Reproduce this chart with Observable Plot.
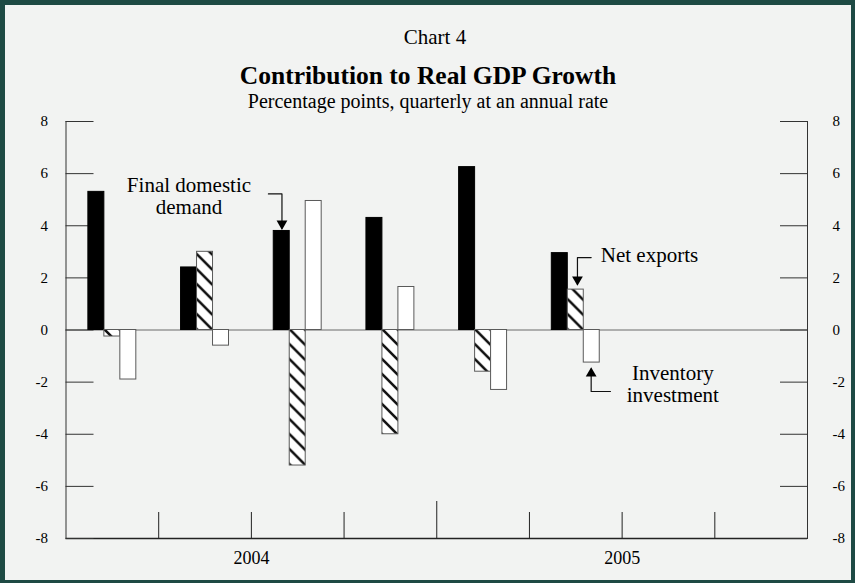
<!DOCTYPE html>
<html>
<head>
<meta charset="utf-8">
<script src="https://cdn.jsdelivr.net/npm/d3@7"></script>
<script src="https://cdn.jsdelivr.net/npm/@observablehq/plot@0.6"></script>
<style>
  html, body { margin: 0; padding: 0; background: #1e4a44; }
  #page { position: relative; width: 855px; height: 583px; background: #1e4a44; overflow: hidden; font-family: "Liberation Serif", "Times New Roman", serif; }
  #panel { position: absolute; left: 5px; top: 5px; width: 846px; height: 575px; background: #f2f3f2; }
  .layer { position: absolute; left: 0; top: 0; }
  .ttl { position: absolute; left: 0; width: 856px; text-align: center; line-height: 1; color: #000; white-space: nowrap; }
  #chartno { top: 27px; font-size: 21px; left: 7px; }
  #title { top: 63px; font-size: 25.5px; font-weight: bold; }
  #subtitle { top: 91px; font-size: 20px; }
</style>
</head>
<body>
<div id="page">
  <div id="panel"></div>
  <div id="axes" class="layer"></div>
  <div id="bars" class="layer"></div>
  <div id="chartno" class="ttl">Chart 4</div>
  <div id="title" class="ttl">Contribution to Real GDP Growth</div>
  <div id="subtitle" class="ttl">Percentage points, quarterly at an annual rate</div>
</div>
<script>
// ---------------- data ----------------
const quarters = ["2004 Q1", "2004 Q2", "2004 Q3", "2004 Q4", "2005 Q1", "2005 Q2", "2005 Q3", "2005 Q4"];
const seriesNames = ["Final domestic demand", "Net exports", "Inventory investment"];
const finalDomesticDemand = [5.3, 2.4, 3.8, 4.3, 6.25, 2.95];
const netExports = [-0.25, 3.0, -5.2, -4.0, -1.6, 1.55];
const inventoryInvestment = [-1.9, -0.6, 4.95, 1.65, -2.3, -1.25];
const yTicks = [-8, -6, -4, -2, 0, 2, 4, 6, 8];
const yearLabels = ["2004", "2005"];

// annotation labels (x in quarter-slot units, y in percentage points)
const noteTexts = ["Final domestic\ndemand", "Net exports", "Inventory\ninvestment"];
const noteX = [1.327, 6.295, 6.547];
const noteY = [5.14, 2.885, -2.07];
// leader lines (polylines ending at arrow tips)
const leaderFDD = [[2.184, 5.22], [2.33, 5.22], [2.33, 3.9]];
const leaderNX = [[5.666, 2.78], [5.518, 2.78], [5.518, 1.75]];
const leaderInv = [[5.874, -2.36], [5.666, -2.36], [5.666, -1.5]];
const tipsDown = [[2.33, 3.84], [5.518, 1.70]];
const tipsUp = [[5.666, -1.43]];

// ---------------- styles ----------------
const seriesFill = {"Final domestic demand": "black", "Net exports": "url(#hatch)", "Inventory investment": "white"};
const seriesStroke = {"Final domestic demand": "black", "Net exports": "#5a5a5a", "Inventory investment": "#5a5a5a"};

const W = 855, H = 583;
const M = {marginTop: 121, marginBottom: 45, marginLeft: 65.5, marginRight: 48};
const font = "'Liberation Serif', 'Times New Roman', serif";

// ---------------- derived tables ----------------
const seriesValues = [finalDomesticDemand, netExports, inventoryInvestment];
const table = quarters.flatMap((q, i) =>
  seriesNames.map((s, j) => ({quarter: q, series: s, value: seriesValues[j][i]}))
).filter(d => d.value !== undefined);

const nQ = quarters.length;
const boundaries = d3.range(1, nQ);
const yearOf = q => q.slice(0, 4);
const yearBreaks = boundaries.filter(i => yearOf(quarters[i]) !== yearOf(quarters[i - 1]));
const minorBreaks = boundaries.filter(i => !yearBreaks.includes(i));
const yearCenters = yearLabels.map(y => {
  const idx = quarters.map((q, i) => yearOf(q) === y ? i : -1).filter(i => i >= 0);
  return (idx[0] + idx[idx.length - 1] + 1) / 2;
});
const yearName = new Map(yearCenters.map((c, i) => [c, yearLabels[i]]));
const notes = noteTexts.map((t, i) => ({text: t, x: noteX[i], y: noteY[i]}));

// ---------------- axes / annotation layer ----------------
const axes = Plot.plot({
  width: W, height: H, ...M,
  x: {domain: [0, nQ], axis: null},
  y: {domain: [-8, 8], axis: null},
  style: {background: "transparent", fontFamily: font, fontSize: "15px", color: "#000"},
  marks: [
    Plot.ruleY([0], {stroke: "#6a6a6a", strokeWidth: 1}),
    Plot.ruleX([0, nQ], {stroke: "#333", strokeWidth: 1}),
    Plot.ruleY([-8], {stroke: "#222", strokeWidth: 1.6}),
    Plot.axisY({anchor: "left", label: null, ticks: yTicks, tickSize: -28, tickPadding: 46, tickFormat: d => String(d), stroke: "#333"}),
    Plot.axisY({anchor: "right", label: null, ticks: yTicks, tickSize: -28, tickPadding: 53, tickFormat: d => String(d), stroke: "#333"}),
    Plot.axisX({anchor: "bottom", label: null, ticks: minorBreaks, tickSize: -26, tickFormat: () => "", stroke: "#222"}),
    Plot.axisX({anchor: "bottom", label: null, ticks: yearBreaks, tickSize: -37, tickFormat: () => "", stroke: "#222"}),
    Plot.axisX({anchor: "bottom", label: null, ticks: yearCenters, tickSize: 0, tickPadding: 13, fontSize: 18, tickFormat: d => yearName.get(d)}),
    Plot.line(leaderFDD, {x: d => d[0], y: d => d[1], stroke: "#111", strokeWidth: 1.2, curve: "linear"}),
    Plot.line(leaderNX, {x: d => d[0], y: d => d[1], stroke: "#111", strokeWidth: 1.2, curve: "linear"}),
    Plot.line(leaderInv, {x: d => d[0], y: d => d[1], stroke: "#111", strokeWidth: 1.2, curve: "linear"}),
    Plot.dot(tipsDown, {x: d => d[0], y: d => d[1], symbol: "triangle", r: 4, fill: "black", stroke: "none", rotate: 180, dy: -6.2}),
    Plot.dot(tipsUp, {x: d => d[0], y: d => d[1], symbol: "triangle", r: 4, fill: "black", stroke: "none", dy: 6.2}),
    Plot.text(notes, {x: "x", y: "y", text: "text", fontSize: 21, lineHeight: 1.07, fill: "#000"})
  ]
});
document.getElementById("axes").append(axes);

// ---------------- bars layer ----------------
const bars = Plot.plot({
  width: W, height: H, ...M,
  fx: {domain: quarters, padding: 0, round: false, axis: null},
  x: {domain: seriesNames, paddingInner: 0, paddingOuter: 1.4, round: false, axis: null},
  y: {domain: [-8, 8], axis: null},
  color: {type: "identity"},
  style: {background: "transparent", fontFamily: font},
  marks: [
    Plot.barY(table, {
      fx: "quarter", x: "series", y: "value",
      fill: d => seriesFill[d.series],
      stroke: d => seriesStroke[d.series],
      strokeWidth: 1
    })
  ]
});
const defs = d3.select(bars).insert("defs", ":first-child");
const pat = defs.append("pattern").attr("id", "hatch").attr("patternUnits", "userSpaceOnUse")
  .attr("width", 15).attr("height", 15);
pat.append("rect").attr("width", 15).attr("height", 15).attr("fill", "white");
pat.append("path").attr("d", "M-3,-3L18,18M-3,12L3,18M12,-3L18,3")
  .attr("stroke", "#111").attr("stroke-width", 2.6).attr("fill", "none");
document.getElementById("bars").append(bars);
</script>
</body>
</html>
